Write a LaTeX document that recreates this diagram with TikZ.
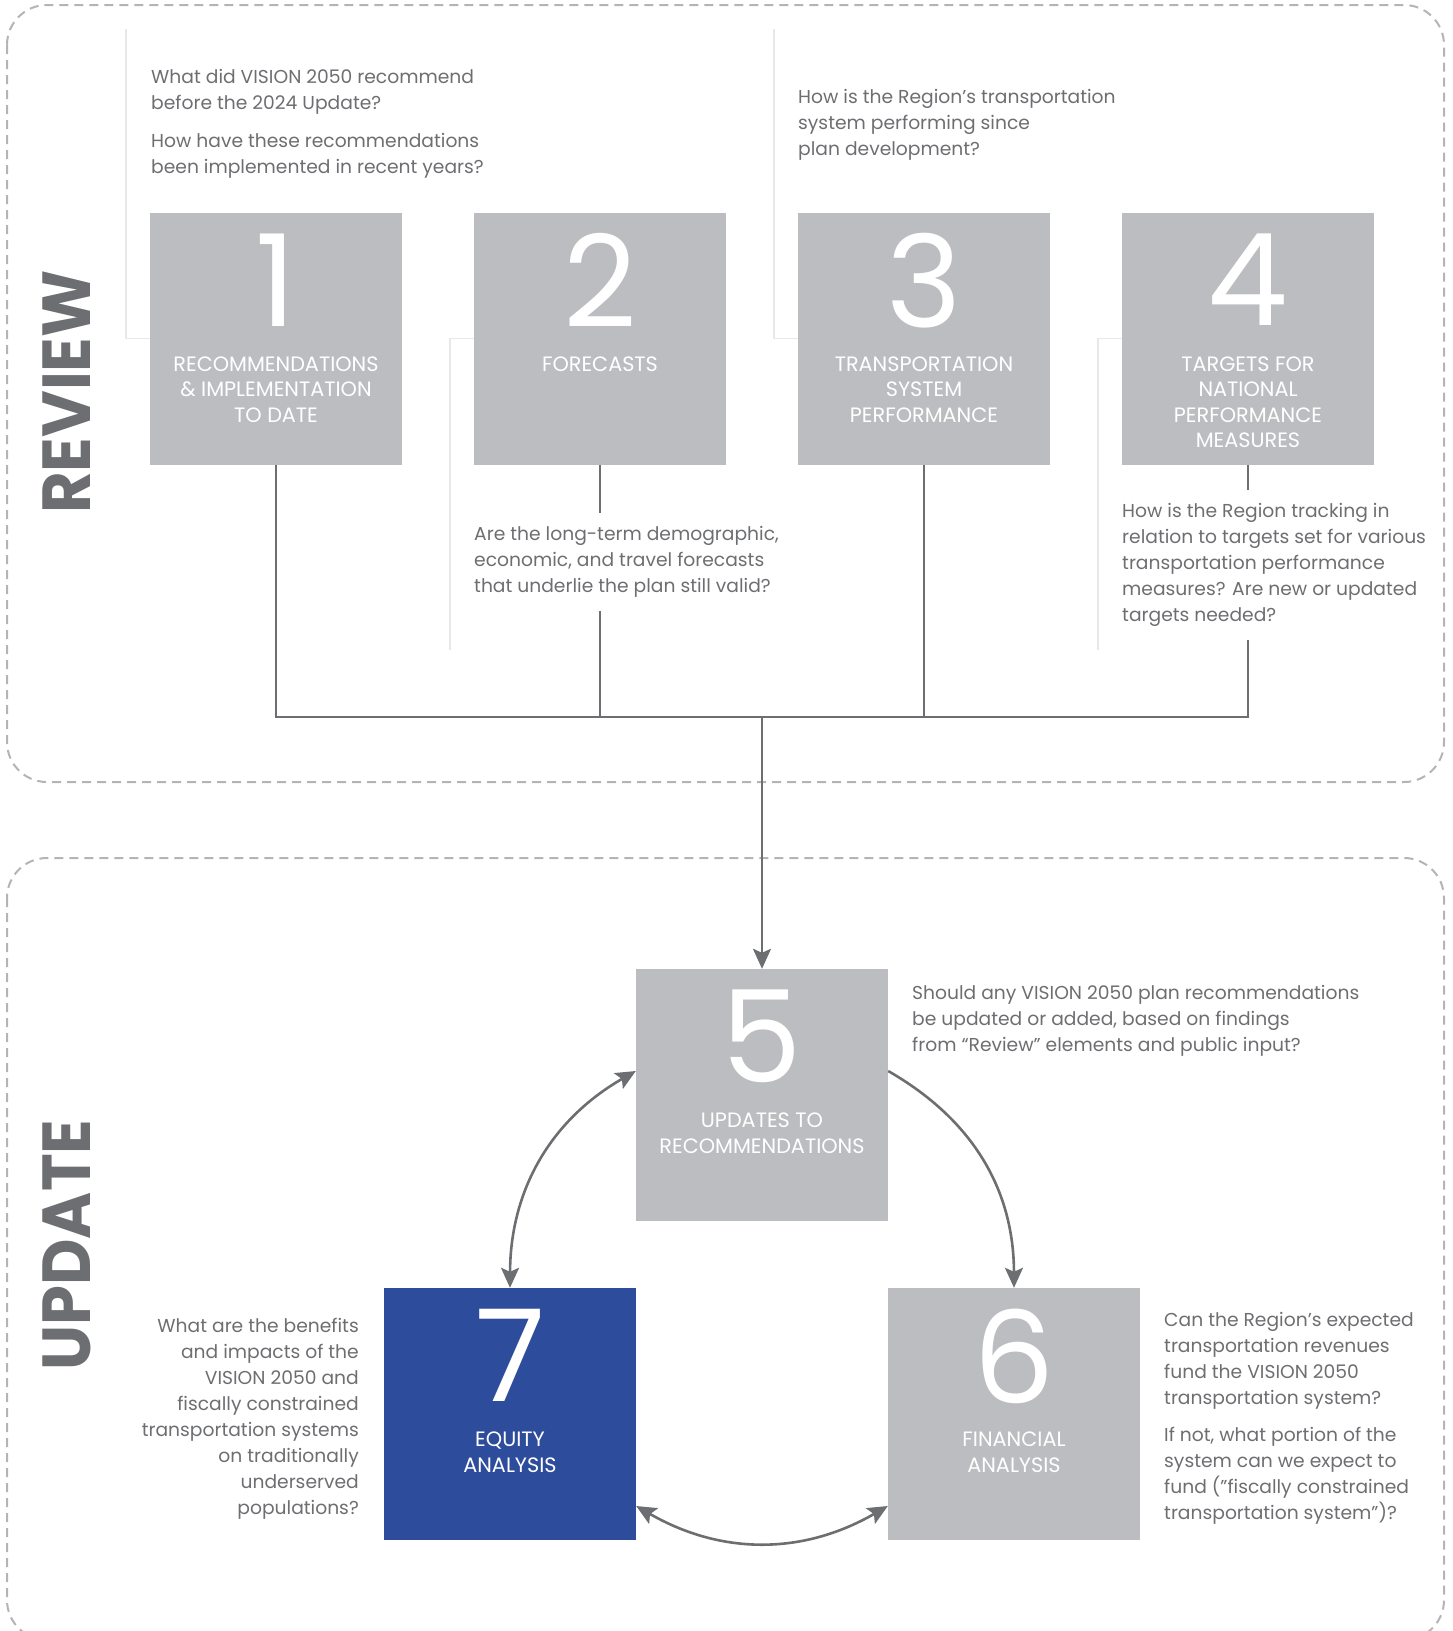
\documentclass[tikz,border=0pt]{standalone}
\usepackage{fontspec}
\setmainfont{Poppins}
\usetikzlibrary{arrows.meta,positioning,calc}

\begin{document}
\begin{tikzpicture}[x=1pt, y=-1pt,
    stepbox/.style={fill=boxGray, minimum size=252pt, inner sep=0pt},
    bignum/.style={font=\fontsize{128}{128}\selectfont, text=white, anchor=north, inner sep=0pt, text depth=0pt},
    boxlabel/.style={font=\fontsize{20.8}{25.5}\selectfont, text=white, align=center, anchor=north, inner sep=0pt},
    question/.style={font=\fontsize{18.7}{26}\selectfont, text=textGray, align=left, inner xsep=0pt, inner ysep=13pt},
    title/.style={font=\fontsize{68}{68}\selectfont\bfseries, text=textGray, rotate=90, inner sep=0pt},
    link/.style={draw=textGray, line width=2.6pt},
    tip/.tip={Stealth[length=20pt, width=18pt, inset=4pt]},
    guide/.style={draw=guideGray, line width=1.5pt},
    dashbox/.style={draw=dashGray, line width=2pt, dash pattern=on 9pt off 6pt, rounded corners=40pt}]
    % Colours
    \definecolor{boxGray}{RGB}{188,189,192}
    \definecolor{boxBlue}{RGB}{46,76,156}
    \definecolor{textGray}{RGB}{109,110,113}
    \definecolor{dashGray}{RGB}{180,180,180}
    \definecolor{guideGray}{RGB}{232,232,232}

    \useasboundingbox (0,0) rectangle (1452,1631);

    % Dashed frames for the two phases
    \draw[dashbox] (7,5) rectangle (1444,782);
    \draw[dashbox] (7,858) rectangle (1444,1640);
    \node[title] (trev) at (67,392) {\scalebox{0.94}[1]{REVIEW}};
    \node[title] (tupd) at (67,1245) {\scalebox{0.94}[1]{UPDATE}};

    % Review boxes 1 to 4
    \foreach \i/\lbl in {1/{RECOMMENDATIONS\\\& IMPLEMENTATION\\TO DATE},
                         2/{FORECASTS},
                         3/{TRANSPORTATION\\SYSTEM\\PERFORMANCE},
                         4/{TARGETS FOR\\NATIONAL\\PERFORMANCE\\MEASURES}}{
        \node[stepbox] (b\i) at ({276+(\i-1)*324}, 338.5) {};
        \node[bignum] (n\i) at ([yshift=-21pt]b\i.north) {\i};
        \node[boxlabel] (l\i) at ([yshift=-144pt]b\i.north) {\lbl};
    }

    % Update boxes 5 to 7
    \node[stepbox] (b5) at (762,1095) {};
    \node[stepbox] (b6) at (1014,1414) {};
    \node[stepbox, fill=boxBlue] (b7) at (510,1414) {};
    \node[bignum] (n5) at ([yshift=-21pt]b5.north) {5};
    \node[bignum] (n6) at ([yshift=-21pt]b6.north) {6};
    \node[bignum] (n7) at ([yshift=-21pt]b7.north) {7};
    \node[boxlabel] (l5) at ([yshift=-144pt]b5.north) {UPDATES TO\\RECOMMENDATIONS};
    \node[boxlabel] (l6) at ([yshift=-144pt]b6.north) {FINANCIAL\\ANALYSIS};
    \node[boxlabel] (l7) at ([yshift=-144pt]b7.north) {EQUITY\\ANALYSIS};

    % Questions
    \node[question, anchor=north west] (q1) at (151,56)
        {What did VISION 2050 recommend\\before the 2024 Update?\\[12pt]
         How have these recommendations\\been implemented in recent years?};
    \node[question, anchor=north west] (q2) at (474,513)
        {Are the long-term demographic,\\economic, and travel forecasts\\that underlie the plan still valid?};
    \node[question, anchor=north west] (q3) at (798,76)
        {How is the Region’s transportation\\system performing since\\plan development?};
    \node[question, anchor=north west] (q4) at (1122,490)
        {How is the Region tracking in\\relation to targets set for various\\transportation performance\\measures? Are new or updated\\targets needed?};
    \node[question, anchor=north west] (q5) at (912,972)
        {Should any VISION 2050 plan recommendations\\be updated or added, based on findings\\from “Review” elements and public input?};
    \node[question, anchor=north west] (q6) at (1164,1299)
        {Can the Region’s expected\\transportation revenues\\fund the VISION 2050\\transportation system?\\[11pt]
         If not, what portion of the\\system can we expect to\\fund (”fiscally constrained\\transportation system”)?};
    \node[question, anchor=north east, align=right] (q7) at (359,1305)
        {What are the benefits\\and impacts of the\\VISION 2050 and\\fiscally constrained\\transportation systems\\on traditionally\\underserved\\populations?};

    % Light guide lines beside the boxes
    \draw[guide] (b1.west) -| ++(-24,-310);
    \draw[guide] (b2.west) -| ++(-24,311);
    \draw[guide] (b3.west) -| ++(-24,-310);
    \draw[guide] (b4.west) -| ++(-24,311);

    % Collector from the review boxes down to box 5
    \coordinate (bus) at (762,717);
    \draw[link] (b1.south) |- (bus) -| (b4.south |- q4.south);
    \draw[link] (b2.south) -- (b2.south |- q2.north);
    \draw[link] (b2.south |- q2.south) -- (b2.south |- bus);
    \draw[link] (b3.south) -- (b3.south |- bus);
    \draw[link] (b4.south) -- (b4.south |- q4.north);
    \draw[link, -tip] (bus) -- (b5.north);

    % Cycle between boxes 5, 6 and 7
    \draw[link, -tip] ([yshift=24pt]b5.east) to[bend left=30] (b6.north);
    \draw[link, tip-tip] ([yshift=24pt]b5.west) to[bend right=30] (b7.north);
    \draw[link, tip-tip] ([yshift=-92pt]b7.east) to[bend right=30] ([yshift=-92pt]b6.west);
\end{tikzpicture}
\end{document}
